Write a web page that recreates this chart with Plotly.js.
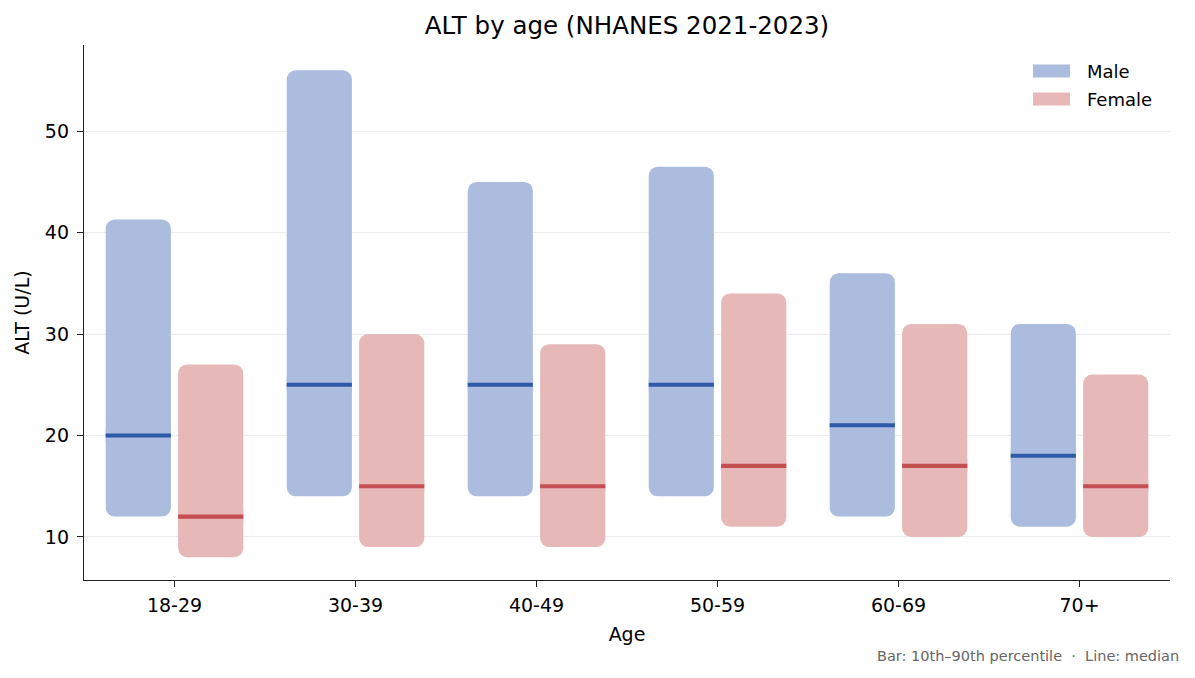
<!DOCTYPE html>
<html><head><meta charset="utf-8">
<script src="https://cdn.plot.ly/plotly-3.0.1.min.js"></script>
<style>body{margin:0}#chart{width:1195px;height:678px}</style>
</head><body><div id="chart"></div>
<script>
const ageGroups = ["18-29","30-39","40-49","50-59","60-69","70+"];
const maleP10 = [12,14,14,14,12,11];
const maleMedian = [20,25,25,25,21,18];
const maleP90 = [41.3,56,45,46.5,36,31];
const femaleP10 = [8,9,9,11,10,10];
const femaleMedian = [12,15,15,17,17,15];
const femaleP90 = [27,30,29,34,31,26];

const W = 0.36;
const lineT = 0.4;
const OV = 1.5; // overlap of the two rounded halves (hidden, same colour)
function group(name, p10, med, p90, fill, lineCol, off){
  const upper = {type:'bar', name:name, x:ageGroups, base:med.map(v=>v-OV), y:p90.map((v,i)=>v-(med[i]-OV)),
    width:W, offset:off, marker:{color:fill, cornerradius:9, line:{width:0}}, showlegend:false, hoverinfo:'skip'};
  const lower = {type:'bar', name:name, x:ageGroups, base:med.map(v=>v+OV), y:p10.map((v,i)=>v-(med[i]+OV)),
    width:W, offset:off, marker:{color:fill, cornerradius:9, line:{width:0}}, showlegend:false, hoverinfo:'skip'};
  const mline = {type:'bar', name:name+' median', x:ageGroups, base:med.map(v=>v-lineT/2), y:med.map(()=>lineT),
    width:W, offset:off, marker:{color:lineCol, line:{width:0}}, showlegend:false, hoverinfo:'skip'};
  return [upper, lower, mline];
}
const maleFill = '#abbcde', femaleFill = '#e6b8b8';
const m = group('Male', maleP10, maleMedian, maleP90, maleFill, '#2c5aa8', -0.38);
const f = group('Female', femaleP10, femaleMedian, femaleP90, femaleFill, '#c44e52', 0.02);
const traces = [m[0], m[1], f[0], f[1], m[2], f[2]];

// plot area: x 84..1170, y 45..580
const px = x => (x-84)/1086, py = y => (580-y)/535;
const legendItems = [{name:'Male', color:maleFill, cy:71}, {name:'Female', color:femaleFill, cy:99}];
const shapes = legendItems.map(it => ({type:'rect', xref:'paper', yref:'paper', x0:px(1033), x1:px(1070),
  y0:py(it.cy+6.5), y1:py(it.cy-6.5), fillcolor:it.color, line:{width:0}}));
const annotations = legendItems.map(it => ({text:it.name, xref:'paper', yref:'paper', x:px(1085), xanchor:'left',
  y:py(it.cy), yanchor:'middle', showarrow:false, font:{size:18, color:'#000'}}));
annotations.push({text:'Bar: 10th\u201390th percentile \u00a0\u00b7\u00a0 Line: median', xref:'paper', yref:'paper',
  x:px(1181), xanchor:'right', y:py(656), yanchor:'middle', showarrow:false, font:{size:14.5, color:'#666'}});

const layout = {
  width:1195, height:678,
  margin:{l:84, r:25, t:45, b:98},
  paper_bgcolor:'#ffffff', plot_bgcolor:'#ffffff',
  font:{family:'DejaVu Sans, sans-serif', size:19, color:'#000'},
  title:{text:'ALT by age (NHANES 2021-2023)', xref:'paper', x:0.5, xanchor:'center', y:1-25/678, yanchor:'middle', font:{size:24.5, color:'#000'}},
  barmode:'overlay',
  showlegend:false,
  xaxis:{type:'category', range:[-0.5,5.5], showline:true, linecolor:'#222', linewidth:1.3, ticks:'outside', ticklen:6, tickcolor:'#222',
    showgrid:false, zeroline:false, automargin:false, ticklabelstandoff:2, title:{text:'Age', font:{size:19}, standoff:12}, tickfont:{size:19}},
  yaxis:{range:[5.75,58.5], showline:true, linecolor:'#222', linewidth:1.3, ticks:'outside', ticklen:6, tickcolor:'#222',
    tickvals:[10,20,30,40,50], showgrid:true, gridcolor:'#ececec', gridwidth:1, zeroline:false, automargin:false,
    ticklabelstandoff:4, title:{text:'ALT (U/L)', font:{size:19}, standoff:10}, tickfont:{size:19}},
  shapes: shapes,
  annotations: annotations
};
Plotly.newPlot('chart', traces, layout, {displayModeBar:false});
</script></body></html>
